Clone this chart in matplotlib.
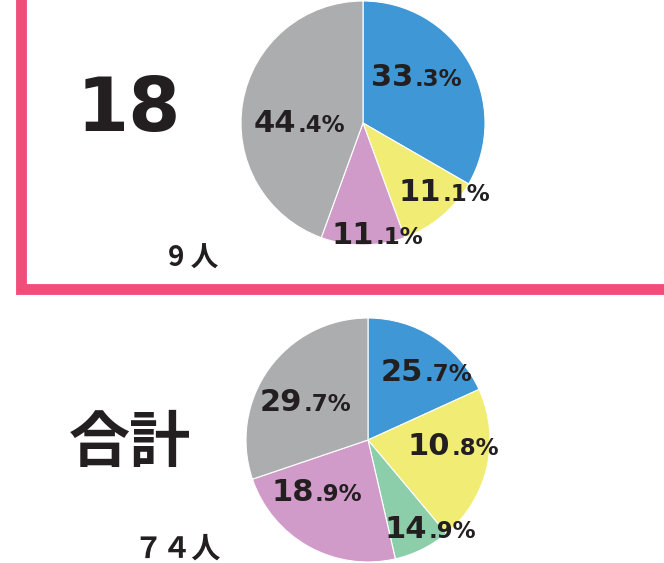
import matplotlib
matplotlib.use("Agg")
import matplotlib.pyplot as plt
from matplotlib.offsetbox import TextArea, HPacker, AnnotationBbox

W, H = 664, 563

# ---- data ----
top_title = "18"
top_count = "9 人"
top_values = [33.3, 11.1, 11.1, 44.4]
top_labels = ["33.3%", "11.1%", "11.1%", "44.4%"]
top_colors = ["#3F98D5", "#F1EC74", "#D09BC8", "#ACADAF"]

bot_title = "合計"
bot_count = "７４人"
# wedge shares as drawn in the picture (the printed labels differ)
bot_values = [18.2, 20.7, 7.5, 23.4, 30.2]
bot_labels = ["25.7%", "10.8%", "14.9%", "18.9%", "29.7%"]
bot_colors = ["#3F98D5", "#F1EC74", "#8DCEAA", "#D09BC8", "#ACADAF"]

# label offsets (in units of radius, relative to pie centre)
top_label_pos = [(0.44, 0.37), (0.67, -0.57), (0.12, -0.92), (-0.52, 0.0)]
bot_label_pos = [(0.48, 0.55), (0.70, -0.05), (0.51, -0.73), (-0.42, -0.43), (-0.51, 0.31)]

TXT = "#231F20"
PINK = "#EF4E7B"

fig = plt.figure(figsize=(W / 100, H / 100), dpi=100)
ax = fig.add_axes([0, 0, 1, 1])


def py(y):
    return H - y


R = 122
top_c = (363, py(123))
bot_c = (368, py(440))

for vals, cols, c in [(top_values, top_colors, top_c), (bot_values, bot_colors, bot_c)]:
    ax.pie(vals, colors=cols, startangle=90, counterclock=False, center=c, radius=R,
           wedgeprops=dict(edgecolor="white", linewidth=0.8), frame=True)


def pct_label(text, xy):
    dot = text.index(".")
    big = text[:dot]
    small = text[dot:]
    t1 = TextArea(big, textprops=dict(fontsize=22, fontweight="bold", color=TXT,
                                      family="DejaVu Sans"))
    t2 = TextArea(small, textprops=dict(fontsize=16.5, fontweight="bold", color=TXT,
                                        family="DejaVu Sans"))
    box = HPacker(children=[t1, t2], align="baseline", pad=0, sep=1)
    ab = AnnotationBbox(box, xy, frameon=False, box_alignment=(0.5, 0.5), pad=0)
    ax.add_artist(ab)


for labs, pos, c in [(top_labels, top_label_pos, top_c), (bot_labels, bot_label_pos, bot_c)]:
    for lab, (dx, dy) in zip(labs, pos):
        pct_label(lab, (c[0] + dx * R, c[1] + dy * R))

# titles
ax.text(129, py(111), top_title, fontsize=54, fontweight="bold", color=TXT,
        ha="center", va="center", family="DejaVu Sans")
ax.text(130, py(444), bot_title, fontsize=44, fontweight="bold", color=TXT,
        ha="center", va="center", family=["Noto Sans CJK JP", "DejaVu Sans"])
ax.text(193, py(259), top_count, fontsize=20, fontweight="bold", color=TXT,
        ha="center", va="center", family=["Noto Sans CJK JP", "DejaVu Sans"])
ax.text(177, py(549), bot_count, fontsize=21, fontweight="bold", color=TXT,
        ha="center", va="center", family=["Noto Sans CJK JP", "DejaVu Sans"])

# pink frame
ax.plot([20.5, 20.5, W + 5], [H + 5, py(288.5), py(288.5)], color=PINK, linewidth=7.8,
        solid_joinstyle="miter", solid_capstyle="butt")

ax.set_xlim(0, W)
ax.set_ylim(0, H)
ax.set_aspect("auto")
ax.axis("off")

fig.savefig("out.png", dpi=100)
